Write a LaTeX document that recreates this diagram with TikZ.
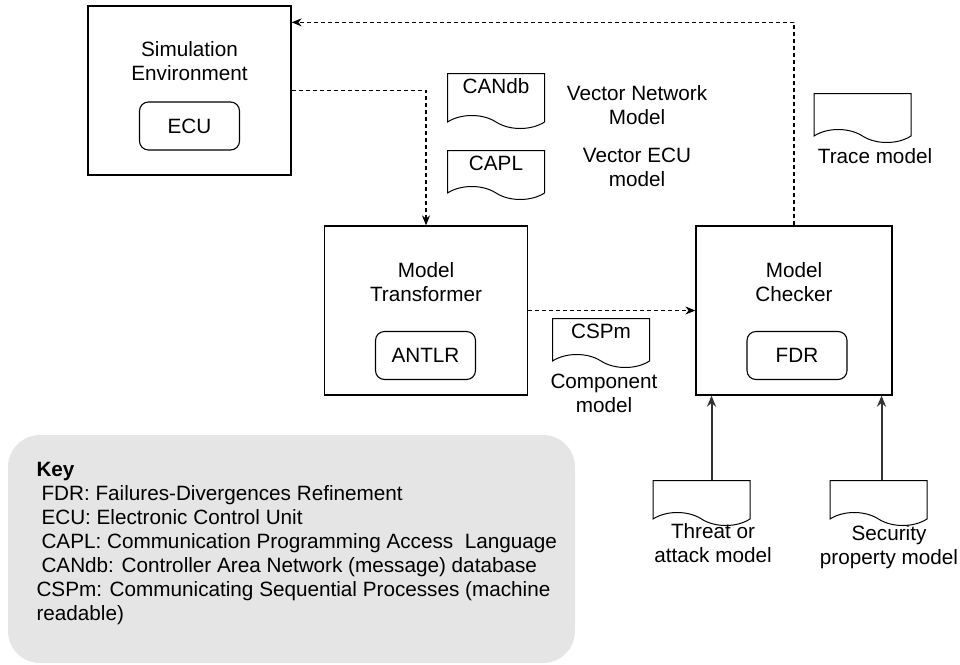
\documentclass[tikz,border=0pt]{standalone}
\usepackage{fontspec}
\setmainfont{Liberation Sans}
\usetikzlibrary{shapes.symbols,arrows.meta}

\begin{document}
\begin{tikzpicture}[x=1pt,y=-1pt,font=\fontsize{20.7}{24}\selectfont,line width=1pt]
				\tikzstyle{block}=[draw,line width=1.3pt,minimum width=203pt,minimum height=169pt,inner sep=0pt]
				\tikzstyle{tool}=[draw,rounded corners=9pt,line width=1.1pt,minimum width=100pt,minimum height=48pt,inner sep=0pt]
				\tikzstyle{doc}=[tape,draw,line width=1pt,tape bend top=none,tape bend bottom=out and in,tape bend height=13pt,minimum width=97pt,text height=14pt,text depth=10pt,inner xsep=0pt,inner ysep=6pt]
				\tikzstyle{txt}=[align=center,inner sep=0pt]
				\tikzstyle{flow}=[dash pattern=on 4pt off 3pt,line width=1.1pt,-{Stealth[length=10pt,width=8pt]}]
				\tikzstyle{feed}=[draw=black!80,line width=2pt,-{Stealth[length=11pt,width=9pt]}]

				\useasboundingbox (0,0) rectangle (960,664);

				% Tool blocks
				\node[block] (sim) at (189.5,90.5) {};
				\node[txt] (simlbl) at (189.5,61.5) {Simulation\\Environment};
				\node[tool] (ecu) at (189.5,126) {ECU};

				\node[block] (trans) at (426,310.5) {};
				\node[txt] (translbl) at (426,282.5) {Model\\Transformer};
				\node[tool] (antlr) at (425.5,355.5) {ANTLR};

				\node[block,minimum width=196pt] (check) at (794,310.5) {};
				\node[txt] (checklbl) at (794,282.5) {Model\\Checker};
				\node[tool] (fdr) at (797,355.5) {FDR};

				% Documents
				\node[doc,text depth=16pt,anchor=north] (candb) at (496,73) {CANdb};
				\node[txt] (netlbl) at (637,105.5) {Vector Network\\Model};
				\node[doc,anchor=north] (capl) at (496,150) {CAPL};
				\node[txt] (eculbl) at (637,167) {Vector ECU\\model};

				\node[doc,anchor=north] (trace) at (862.5,93) {};
				\node[txt] (tracelbl) at (875,156) {Trace model};

				\node[doc,anchor=north] (cspm) at (601,318) {CSPm};
				\node[txt] (cspmlbl) at (604,393) {Component\\model};

				\node[doc,text depth=6pt,anchor=north] (threat) at (701.5,480) {};
				\node[txt] (threatlbl) at (713,543.5) {Threat or\\attack model};
				\node[doc,text depth=6pt,anchor=north] (secure) at (878.5,480) {};
				\node[txt] (securelbl) at (889,547.5) {Security\\property model};

				% Connections
				\draw[flow] (sim.east) -| (trans.north);
				\draw[flow] (trans.east) -- (check.west);
				\draw[flow] (check.north) |- ([yshift=-17pt]sim.north east);
				\draw[feed] ([xshift=10pt]threat.north) -- ([xshift=10pt]threat.north |- check.south);
				\draw[feed] ([xshift=3pt]secure.north) -- ([xshift=3pt]secure.north |- check.south);

				% Key
				\node[draw=none,fill=black!10,rounded corners=32pt,minimum width=567pt,minimum height=228pt] (keybox) at (291.5,549) {};
				\node[align=left,anchor=north west,inner sep=0pt] (key) at (36,462) {\textbf{Key}\\
				\hspace{5pt}FDR: Failures-Divergences Refinement\\
				\hspace{5pt}ECU: Electronic Control Unit\\
				\hspace{5pt}CAPL: Communication Programming Access\ \ Language\\
				\hspace{5pt}CANdb: Controller Area Network (message) database\\
				CSPm: Communicating Sequential Processes (machine\\
				readable)};

			\end{tikzpicture}
\end{document}
